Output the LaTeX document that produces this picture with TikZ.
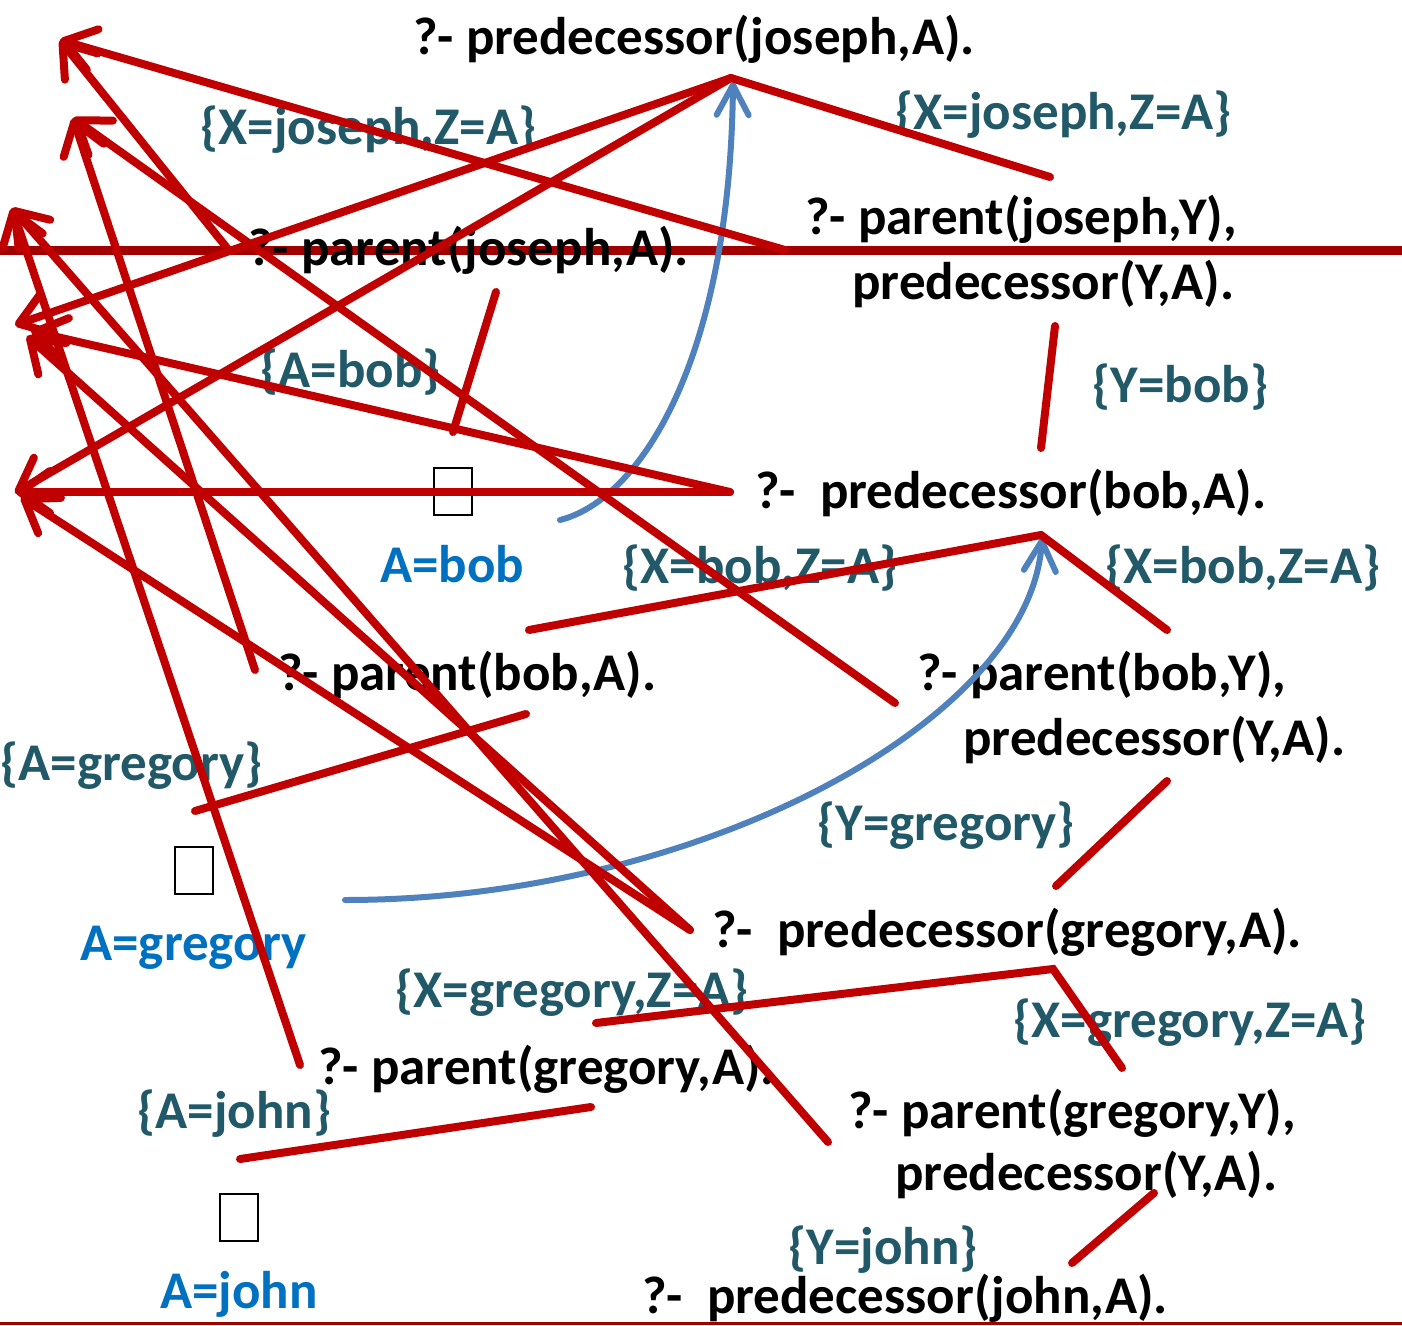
\documentclass[tikz,border=0pt]{standalone}
\usepackage{fontspec}
\setmainfont{Carlito}
\usetikzlibrary{arrows.meta}
\definecolor{tred}{RGB}{192,0,0}
\definecolor{hred}{RGB}{160,0,0}
\definecolor{tealtxt}{RGB}{33,89,104}
\definecolor{bluetxt}{RGB}{0,112,192}
\definecolor{bluearc}{RGB}{79,129,189}

\begin{document}
\begin{tikzpicture}[x=0.5pt,y=-0.5pt,
  goal/.style={anchor=base west, inner sep=0pt, font=\fontsize{26.5}{30}\selectfont\bfseries, text=black},
  subst/.style={goal, text=tealtxt},
  answer/.style={goal, text=bluetxt},
  treeline/.style={draw=tred, line width=4pt, line cap=round},
  backarrow/.style={treeline, -{Straight Barb[length=15pt,width=21pt,round]}},
  flowarc/.style={draw=bluearc, line width=3pt, line cap=round, -{Straight Barb[length=15pt,width=16pt,round]}},
  emptybox/.style={draw=black, line width=1.2pt, minimum width=19pt, minimum height=23.5pt, inner sep=0pt, anchor=north west},
  rule/.style={draw=hred},
]
\useasboundingbox (0,0) rectangle (1402,1326);
\fill[white] (0,0) rectangle (1402,1326);

% horizontal rules
\coordinate (ruleL) at (0,251);
\coordinate (ruleR) at (1402,251);
\coordinate (footL) at (0,1323);
\coordinate (footR) at (1402,1323);
\draw[rule, line width=4.5pt] (ruleL) -- (ruleR);
\draw[rule, line width=1.5pt] (footL) -- (footR);

% goals, substitutions and answers
\node[goal]   (q0)  at (413,55)   {?- predecessor(joseph,A).};
\node[subst]  (s0l) at (200,145)  {\{X=joseph,Z=A\}};
\node[subst]  (s0r) at (895,130)  {\{X=joseph,Z=A\}};
\node[goal]   (q1)  at (248,266)  {?- parent(joseph,A).};
\node[goal]   (q2a) at (805,235)  {?- parent(joseph,Y),};
\node[goal]   (q2b) at (852,300)  {predecessor(Y,A).};
\node[subst]  (s1)  at (260,387)  {\{A=bob\}};
\node[subst]  (s2)  at (1092,402) {\{Y=bob\}};
\node[emptybox] (box1) at (433,467) {};
\node[goal]   (q3)  at (755,508)  {?-\ \ predecessor(bob,A).};
\node[answer] (a1)  at (380,582)  {A=bob};
\node[subst]  (s3l) at (622,583)  {\{X=bob,Z=A\}};
\node[subst]  (s3r) at (1105,583) {\{X=bob,Z=A\}};
\node[goal]   (q4)  at (278,690)  {?- parent(bob,A).};
\node[goal]   (q5a) at (917,690)  {?- parent(bob,Y),};
\node[goal]   (q5b) at (963,755)  {predecessor(Y,A).};
\node[subst]  (s4)  at (0,780)    {\{A=gregory\}};
\node[subst]  (s5)  at (817,840)  {\{Y=gregory\}};
\node[emptybox] (box2) at (174,846) {};
\node[answer] (a2)  at (80,960)   {A=gregory};
\node[goal]   (q6)  at (712,947)  {?-\ \ predecessor(gregory,A).};
\node[subst]  (s6l) at (395,1007) {\{X=gregory,Z=A\}};
\node[subst]  (s6r) at (1013,1037){\{X=gregory,Z=A\}};
\node[goal]   (q7)  at (318,1084) {?- parent(gregory,A).};
\node[subst]  (s7)  at (137,1128) {\{A=john\}};
\node[goal]   (q8a) at (848,1128) {?- parent(gregory,Y),};
\node[goal]   (q8b) at (895,1190) {predecessor(Y,A).};
\node[emptybox] (box3) at (219,1193) {};
\node[answer] (a3)  at (160,1308) {A=john};
\node[subst]  (s8)  at (788,1264) {\{Y=john\}};
\node[goal]   (q9)  at (642,1313) {?-\ \ predecessor(john,A).};

% ends of the tree branches
\coordinate (apexJ)   at (731,78);
\coordinate (jR)      at (1050,177);
\coordinate (pjTop)   at (496,292);
\coordinate (pjBot)   at (453,432);
\coordinate (yBobTop) at (1055,326);
\coordinate (yBobBot) at (1041,448);
\coordinate (apexB)   at (1041,535);
\coordinate (bL)      at (529,630);
\coordinate (bR)      at (1167,630);
\coordinate (pbTop)   at (526,714);
\coordinate (pbBot)   at (195,811);
\coordinate (yGTop)   at (1167,781);
\coordinate (yGBot)   at (1056,886);
\coordinate (apexG)   at (1053,969);
\coordinate (gL)      at (596,1023);
\coordinate (gR)      at (1122,1068);
\coordinate (pgTop)   at (591,1107);
\coordinate (pgBot)   at (240,1159);
\coordinate (yJTop)   at (1154,1193);
\coordinate (yJBot)   at (1072,1263);

% ends of the backward arrows
\coordinate (h1)  at (60,40);
\coordinate (h2)  at (73,118);
\coordinate (h3)  at (12,208);
\coordinate (h4a) at (15,325);
\coordinate (h4b) at (31,331);
\coordinate (h4c) at (27,336);
\coordinate (h5a) at (15,493);
\coordinate (h5b) at (16,492);
\coordinate (h5c) at (21,497);
\coordinate (t1)  at (785,250);
\coordinate (t1b) at (227,248);
\coordinate (t2)  at (895,703);
\coordinate (t2b) at (255,670);
\coordinate (t3)  at (300,1065);
\coordinate (t3b) at (828,1142);
\coordinate (t5)  at (730,492);
\coordinate (t6)  at (690,930);

% answer flows back to the goals
\coordinate (bobAns)  at (560,520);
\coordinate (bobGoal) at (733,82);
\coordinate (grgAns)  at (345,900);
\coordinate (grgGoal) at (1042,538);
\draw[flowarc] (bobAns) .. controls (640,500) and (730,360) .. (bobGoal);
\draw[flowarc] (grgAns) .. controls (700,900) and (1030,720) .. (grgGoal);

% tree branches
\draw[treeline] (apexJ) -- (jR);
\draw[treeline] (pjTop) -- (pjBot);
\draw[treeline] (yBobTop) -- (yBobBot);
\draw[treeline] (bL) -- (apexB) -- (bR);
\draw[treeline] (pbTop) -- (pbBot);
\draw[treeline] (yGTop) -- (yGBot);
\draw[treeline] (gL) -- (apexG) -- (gR);
\draw[treeline] (pgTop) -- (pgBot);
\draw[treeline] (yJTop) -- (yJBot);

% backward arrows
\draw[backarrow] (t1)  -- (h1);
\draw[backarrow] (t1b) -- (h1);
\draw[backarrow] (t2)  -- (h2);
\draw[backarrow] (t2b) -- (h2);
\draw[backarrow] (t3)  -- (h3);
\draw[backarrow] (t3b) -- (h3);
\draw[backarrow] (apexJ) -- (h4a);
\draw[backarrow] (t5)  -- (h4b);
\draw[backarrow] (t6)  -- (h4c);
\draw[backarrow] (apexJ) -- (h5a);
\draw[backarrow] (t5)  -- (h5b);
\draw[backarrow] (t6)  -- (h5c);
\end{tikzpicture}
\end{document}
